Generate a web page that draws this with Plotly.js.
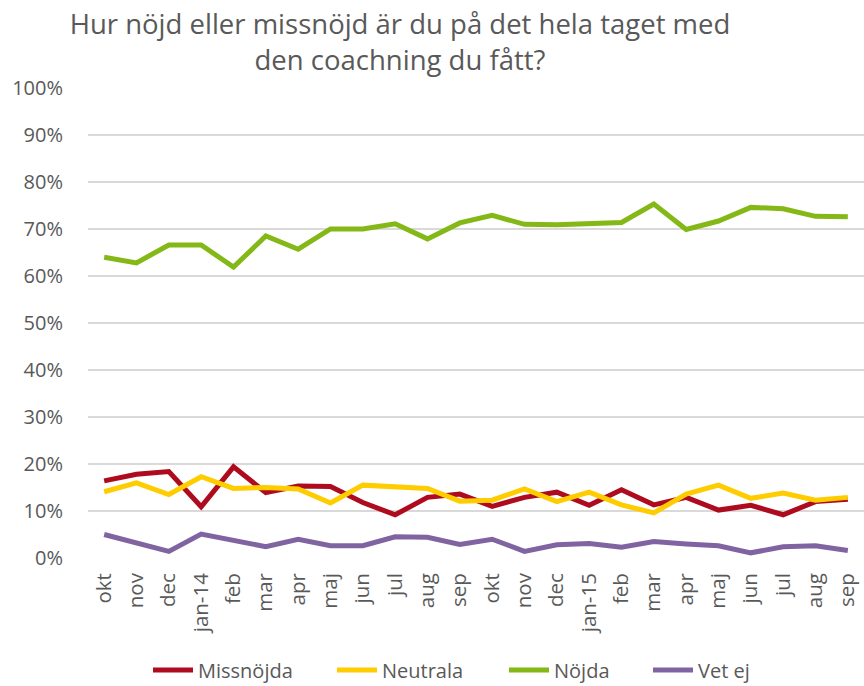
<!DOCTYPE html>
<html>
<head>
<meta charset="utf-8">
<script src="https://cdn.plot.ly/plotly-3.0.1.min.js"></script>
<style>html,body{margin:0;padding:0;background:#fff;}#chart{width:864px;height:686px;}</style>
</head>
<body>
<div id="chart"></div>
<script>
const months = ["okt","nov","dec","jan-14","feb","mar","apr","maj","jun","jul","aug","sep",
                "okt","nov","dec","jan-15","feb","mar","apr","maj","jun","jul","aug","sep"];
const missnojda = [16.4,17.8,18.4,10.9,19.4,13.9,15.3,15.2,11.8,9.2,12.9,13.6,
                   11.0,12.9,14.0,11.2,14.5,11.3,12.9,10.2,11.2,9.2,12.0,12.5];
const neutrala  = [14.1,16.0,13.5,17.3,14.8,15.0,14.7,11.7,15.5,15.2,14.8,12.1,
                   12.3,14.7,12.0,14.0,11.3,9.6,13.6,15.5,12.7,13.8,12.3,12.9];
const nojda     = [64.0,62.8,66.6,66.6,61.9,68.5,65.7,70.0,70.0,71.1,67.9,71.3,
                   72.9,71.0,70.9,71.2,71.4,75.3,69.9,71.7,74.6,74.3,72.7,72.6];
const vetej     = [5.0,3.3,1.4,5.1,3.7,2.4,4.0,2.6,2.6,4.5,4.4,2.9,
                   4.0,1.4,2.8,3.1,2.3,3.5,3.0,2.6,1.1,2.4,2.6,1.6];
const seriesNames = ["Missnöjda","Neutrala","Nöjda","Vet ej"];
const seriesColors = ["#AE0B1E","#FFCC00","#84B817","#8064A2"];
const seriesData = [missnojda, neutrala, nojda, vetej];
const legendIds = ["legend","legend2","legend3","legend4"];
const legendTextX = [196, 380, 552, 696];

const idx = months.map((m,i)=>i);
const traces = seriesData.map((d,k)=>({
  type:'scatter', mode:'lines', name:seriesNames[k], legend:legendIds[k],
  x: idx, y: d.map(v=>v/100),
  line:{color:seriesColors[k], width:5, shape:'linear'},
  hoverinfo:'skip'
}));

const layout = {
  width:864, height:686,
  margin:{l:88, r:0, t:88, b:128, pad:0},
  paper_bgcolor:'#ffffff', plot_bgcolor:'#ffffff',
  font:{family:'"Open Sans", sans-serif', color:'#595959', size:20},
  title:{text:'Hur nöjd eller missnöjd är du på det hela taget med<br>den coachning du fått?',
         font:{family:'"Open Sans", sans-serif', size:27.5, color:'#595959'},
         xref:'container', x:400/864, xanchor:'center', yref:'container', y:1-34/686, yanchor:'middle'},
  xaxis:{range:[-0.5,23.5], tickmode:'array', tickvals:idx, ticktext:months, tickangle:-90,
         showgrid:false, zeroline:false, showline:false, ticks:'', fixedrange:true,
         ticklabelstandoff:10,
         tickfont:{size:20.5, color:'#595959'}},
  yaxis:{range:[0,1], tickformat:'.0%', dtick:0.1, showgrid:true, gridcolor:'#D9D9D9', gridwidth:1.5,
         zeroline:false, showline:false, ticks:'', fixedrange:true, ticklabelstandoff:24,
         tickfont:{size:20, color:'#595959'}},
  showlegend:true
};
legendIds.forEach((id,k)=>{
  layout[id] = {orientation:'h', xref:'container', yref:'container',
    x:(legendTextX[k]-48)/864, xanchor:'left', y:1-670/686, yanchor:'middle',
    font:{size:20, color:'#595959'}, itemwidth:40, bgcolor:'rgba(0,0,0,0)'};
});
Plotly.newPlot('chart', traces, layout, {displayModeBar:false, staticPlot:true});
</script>
</body>
</html>
